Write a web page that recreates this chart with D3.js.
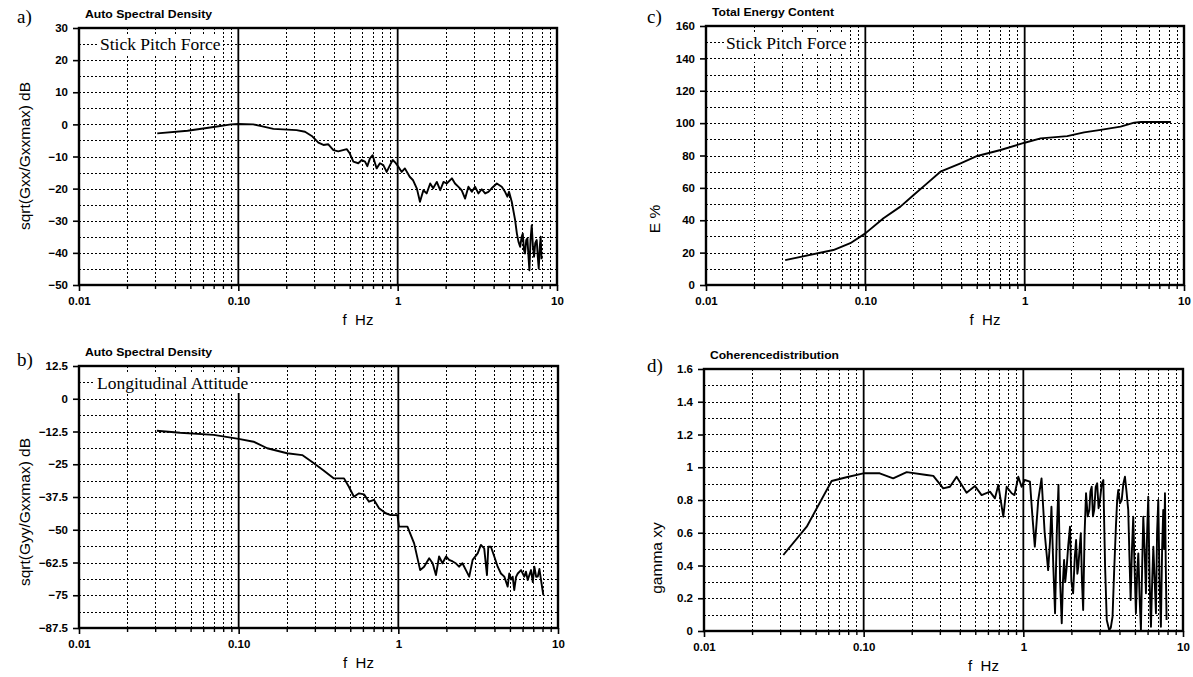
<!DOCTYPE html>
<html><head><meta charset="utf-8">
<script src="https://cdn.jsdelivr.net/npm/d3@7"></script>
<style>body{margin:0;background:#fff}svg{display:block}</style>
</head><body>
<svg id="c" width="1193" height="677"></svg>
<script>
// ---------- data ----------
const xTickValues = [0.01, 0.1, 1, 10];
const xTickLabels = ["0.01", "0.10", "1", "10"];

const yTicksA = [30, 20, 10, 0, -10, -20, -30, -40, -50];
const yTicksB = [12.5, 0, -12.5, -25, -37.5, -50, -62.5, -75, -87.5];
const yTicksC = [160, 140, 120, 100, 80, 60, 40, 20, 0];
const yTicksD = [1.6, 1.4, 1.2, 1, 0.8, 0.6, 0.4, 0.2, 0];
const yLabelsB = ["12.5", "0", "\u221212.5", "\u221225", "\u221237.5", "\u221250", "\u221262.5", "\u221275", "\u221287.5"];
const yLabelsD = ["1.6", "1.4", "1.2", "1", "0.8", "0.6", "0.4", "0.2", "0"];

// a) Stick pitch force auto spectral density
const freqA = [0.031,0.048,0.07,0.09,0.1,0.124,0.144,0.166,0.232,0.262,0.289,0.318,0.342,0.367,0.395,0.424,0.479,0.50,0.527,0.566,0.595,0.624,0.645,0.67,0.697,0.721,0.738,0.774,0.813,0.853,0.895,0.931,0.971,1.01,1.06,1.11,1.19,1.25,1.32,1.38,1.45,1.52,1.6,1.67,1.76,1.85,1.94,2.03,2.19,2.29,2.4,2.52,2.65,2.78,2.92,3.06,3.21,3.37,3.54,3.71,3.89,4.19,4.5,4.72,4.88,5.0,5.2,5.46,5.6,5.73,5.87,6.0,6.1,6.2,6.3,6.41,6.52,6.6,6.71,6.82,6.94,7.06,7.18,7.3,7.46,7.57,7.68,7.8,7.9,8.0];
const valA  = [-2.8,-2.0,-0.8,0,0.1,0,-0.7,-1.4,-1.8,-2.3,-3.6,-5.7,-6.4,-6.2,-8.0,-8.4,-7.7,-9.0,-11.6,-12.1,-11.1,-11.6,-13,-10.6,-9.6,-12.1,-13.7,-12.1,-12.7,-14.8,-12.7,-11.1,-12.0,-13.2,-14.8,-13.7,-16.3,-17.4,-20,-24.1,-20.5,-21.5,-18.4,-19.9,-17.9,-20.5,-17.9,-18.4,-16.8,-18.4,-19.4,-20.5,-23.1,-19.4,-21,-19.4,-21.5,-20.2,-21.5,-21,-19.9,-18.4,-19.4,-21,-22.5,-21,-24.1,-29.8,-34,-36.5,-38.1,-35,-34,-39,-40.2,-36,-35.5,-40,-45.4,-36,-31.4,-38,-41.2,-37,-36,-41,-44.9,-38,-35,-42];

// b) Longitudinal attitude auto spectral density
const freqB = [0.0307,0.043,0.0697,0.1,0.124,0.151,0.201,0.25,0.296,0.342,0.395,0.457,0.49,0.527,0.567,0.61,0.655,0.704,0.757,0.834,0.896,0.987,1.01,1.14,1.256,1.37,1.45,1.56,1.64,1.72,1.80,1.89,1.99,2.08,2.19,2.29,2.40,2.52,2.65,2.78,2.92,3.14,3.29,3.45,3.59,3.66,3.80,3.99,4.19,4.39,4.61,4.84,4.95,5.08,5.20,5.32,5.46,5.60,5.87,6.15,6.3,6.46,6.78,6.95,7.11,7.3,7.47,7.65,7.83,8.09];
const valB  = [-12.2,-13.0,-13.8,-15.3,-16.4,-18.9,-20.8,-21.5,-24.6,-27.5,-30.4,-30.4,-33.6,-37.4,-36.1,-36.5,-39.3,-38.6,-41.8,-43.7,-44.4,-44.4,-48.8,-48.8,-55.2,-65.4,-64.1,-60.9,-62.8,-67.3,-60.2,-62.8,-60.2,-61.5,-62.1,-62.8,-64.1,-62.8,-65.4,-67.9,-61.5,-59,-55.8,-57.1,-67.3,-56.5,-56.5,-60.2,-64.1,-66.7,-67.9,-71.7,-66.7,-69,-67.9,-73,-68,-66.7,-65.4,-67.9,-66,-69.2,-65.4,-70,-64.1,-68,-67.9,-65,-69.2,-74.9];

// c) Total energy content
const freqC = [0.0314,0.063,0.0805,0.1,0.13,0.166,0.201,0.244,0.296,0.396,0.504,0.706,1.0,1.26,1.85,2.36,3.0,4.0,4.87,5.37,8.28];
const valC  = [15.4,21.6,25.8,31.9,41.2,48.4,55.6,62.8,70,75.2,79.7,83.4,87.9,90.6,92,94.3,95.8,97.8,100.3,100.7,100.7];

// d) Coherence distribution
const freqD = [0.0314,0.044,0.063,0.078,0.0995,0.126,0.153,0.186,0.248,0.273,0.315,0.347,0.382,0.441,0.498,0.548,0.618,0.664,0.697,0.749,0.786,0.845,0.88,0.93,0.975,1.02,1.1,1.14,1.18,1.24,1.30,1.36,1.43,1.47,1.50,1.54,1.58,1.62,1.66,1.70,1.74,1.77,1.80,1.83,1.87,1.91,1.96,2.0,2.05,2.1,2.14,2.18,2.21,2.25,2.29,2.33,2.37,2.42,2.47,2.53,2.59,2.63,2.68,2.73,2.78,2.84,2.90,2.96,3.02,3.1,3.17,3.25,3.33,3.4,3.45,3.53,3.62,3.7,3.80,3.87,3.93,4.03,4.13,4.23,4.33,4.43,4.54,4.62,4.70,4.79,4.88,4.97,5.07,5.16,5.25,5.35,5.45,5.55,5.64,5.75,5.86,5.96,6.06,6.18,6.30,6.41,6.52,6.65,6.77,6.88,7.0,7.13,7.27,7.4,7.52,7.62,7.71,7.8,7.89];
const valD  = [0.464,0.637,0.916,0.939,0.963,0.963,0.932,0.97,0.953,0.947,0.871,0.881,0.942,0.845,0.885,0.83,0.851,0.81,0.892,0.698,0.881,0.841,0.83,0.942,0.881,0.922,0.912,0.7,0.515,0.8,0.932,0.6,0.372,0.55,0.759,0.4,0.108,0.6,0.892,0.3,0.047,0.3,0.434,0.3,0.393,0.52,0.637,0.3,0.23,0.45,0.556,0.35,0.393,0.5,0.597,0.3,0.128,0.6,0.841,0.7,0.739,0.85,0.881,0.7,0.74,0.88,0.902,0.75,0.8,0.9,0.922,0.4,0.067,0.03,0.006,0.02,0.087,0.35,0.637,0.8,0.861,0.78,0.8,0.9,0.942,0.85,0.739,0.45,0.189,0.5,0.698,0.4,0.108,0.35,0.474,0.2,0.006,0.4,0.698,0.5,0.23,0.6,0.82,0.3,0.026,0.3,0.515,0.3,0.108,0.6,0.8,0.3,0.026,0.5,0.739,0.5,0.841,0.4,0.067];

// ---------- drawing ----------
const svg = d3.select("#c");
const SANS = "'Liberation Sans', Arial, sans-serif";
const SERIF = "'Liberation Serif', 'Times New Roman', serif";

function panel(cfg) {
  const g = svg.append("g");
  const x = d3.scaleLog().domain([0.01, 10]).range([cfg.left, cfg.right]);
  const y = d3.scaleLinear().domain(cfg.yDomain).range([cfg.bottom, cfg.top]);

  // minor vertical grid (2..9 per decade)
  const minors = [];
  [0.01, 0.1, 1].forEach(dd => { for (let k = 2; k <= 9; k++) minors.push(dd * k); });
  g.selectAll(".vg").data(minors).join("line")
    .attr("x1", d => Math.round(x(d)) + 0.5).attr("x2", d => Math.round(x(d)) + 0.5)
    .attr("y1", cfg.top).attr("y2", cfg.bottom)
    .attr("stroke", "#000").attr("stroke-width", 1).attr("stroke-dasharray", "1.5,2.5")
    .attr("shape-rendering", "crispEdges");

  // horizontal grid at half steps
  const [y0, y1] = cfg.yDomain;
  const step = (cfg.yTicks[0] - cfg.yTicks[1]) / 2;
  const hg = d3.range(0, Math.round((y1 - y0) / step) + 1).map(i => y0 + i * step).filter(v => v > y0 && v < y1);
  g.selectAll(".hg").data(hg).join("line")
    .attr("x1", cfg.left).attr("x2", cfg.right)
    .attr("y1", d => Math.round(y(d)) + 0.5).attr("y2", d => Math.round(y(d)) + 0.5)
    .attr("stroke", "#000").attr("stroke-width", 1).attr("stroke-dasharray", "1.5,2.5")
    .attr("shape-rendering", "crispEdges");

  // major decade lines
  g.selectAll(".mg").data([0.1, 1]).join("line")
    .attr("x1", d => x(d)).attr("x2", d => x(d))
    .attr("y1", cfg.top).attr("y2", cfg.bottom)
    .attr("stroke", "#000").attr("stroke-width", 1.8);

  // inset label
  if (cfg.inset) {
    const t = g.append("text").attr("x", cfg.inset.x).attr("y", cfg.inset.y)
      .attr("font-family", SERIF).attr("font-size", 17.5).attr("fill", "#000").text(cfg.inset.text);
    const bb = t.node().getBBox();
    g.insert("rect", "text").attr("x", bb.x - 2).attr("y", bb.y).attr("width", bb.width + 4).attr("height", bb.height)
      .attr("fill", "#fff");
  }

  // curve
  const data = cfg.fx.map((f, i) => [f, cfg.fy[i]]);
  g.append("path").datum(data)
    .attr("d", d3.line().x(d => x(d[0])).y(d => y(d[1])))
    .attr("fill", "none").attr("stroke", "#000").attr("stroke-width", 1.9).attr("stroke-linejoin", "round");

  // frame
  g.append("rect").attr("x", cfg.left).attr("y", cfg.top)
    .attr("width", cfg.right - cfg.left).attr("height", cfg.bottom - cfg.top)
    .attr("fill", "none").attr("stroke", "#000").attr("stroke-width", 2.4);

  // bottom axis
  const xAxis = d3.axisBottom(x).tickValues(xTickValues).tickSize(6).tickPadding(6)
    .tickFormat((d, i) => xTickLabels[i]);
  const ax = g.append("g").attr("transform", `translate(0,${cfg.bottom})`).call(xAxis);
  ax.select(".domain").remove();
  ax.selectAll("line").attr("stroke-width", 1.6);
  ax.selectAll("text").attr("font-family", SANS).attr("font-weight", "bold").attr("font-size", 11.5).attr("fill", "#000");
  const axm = g.append("g").attr("transform", `translate(0,${cfg.bottom})`)
    .call(d3.axisBottom(x).tickValues(minors).tickSize(4).tickFormat(""));
  axm.select(".domain").remove();
  axm.selectAll("line").attr("stroke-width", 1.4);

  // left axis
  const yAxis = d3.axisLeft(y).tickValues(cfg.yTicks).tickSize(6).tickPadding(5)
    .tickFormat((d, i) => cfg.yLabels ? cfg.yLabels[i] : d3.format("")(d).replace("-", "\u2212"));
  const ay = g.append("g").attr("transform", `translate(${cfg.left},0)`).call(yAxis);
  ay.select(".domain").remove();
  ay.selectAll("line").attr("stroke-width", 1.6);
  ay.selectAll("text").attr("font-family", SANS).attr("font-weight", "bold").attr("font-size", 11.5).attr("fill", "#000");

  // axis titles
  g.append("text").attr("x", (cfg.left + cfg.right) / 2 + 40).attr("y", cfg.bottom + 40)
    .attr("text-anchor", "middle").attr("font-family", SANS).attr("font-size", 15).attr("font-weight", 500)
    .attr("xml:space", "preserve").text("f  Hz");
  g.append("text").attr("transform", `translate(${cfg.ylab.x},${cfg.ylab.y}) rotate(-90)`)
    .attr("text-anchor", "middle").attr("font-family", SANS).attr("font-size", 15.5).text(cfg.ylab.text);

  // top title and panel letter
  g.append("text").attr("x", cfg.left + 6).attr("y", cfg.top - 10)
    .attr("font-family", SANS).attr("font-weight", "bold").attr("font-size", 10.5)
    .attr("textLength", cfg.titleLen).attr("lengthAdjust", "spacingAndGlyphs").text(cfg.title);
  g.append("text").attr("x", cfg.letter.x).attr("y", cfg.letter.y)
    .attr("font-family", SERIF).attr("font-size", 19).text(cfg.letter.text);
}

panel({left: 79, right: 557, top: 28, bottom: 285, yDomain: [-50, 30], yTicks: yTicksA,
  fx: freqA, fy: valA, title: "Auto Spectral Density", titleLen: 127, letter: {x: 17, y: 23, text: "a)"},
  inset: {x: 100, y: 50, text: "Stick Pitch Force"},
  ylab: {x: 30, y: 156, text: "sqrt(Gxx/Gxxmax) dB"}});

panel({left: 79, right: 558, top: 366, bottom: 628, yDomain: [-87.5, 12.5], yTicks: yTicksB, yLabels: yLabelsB,
  fx: freqB, fy: valB, title: "Auto Spectral Density", titleLen: 127, letter: {x: 17, y: 366, text: "b)"},
  inset: {x: 97, y: 389, text: "Longitudinal Attitude"},
  ylab: {x: 30, y: 512, text: "sqrt(Gyy/Gxxmax) dB"}});

panel({left: 706, right: 1184, top: 26, bottom: 285, yDomain: [0, 160], yTicks: yTicksC,
  fx: freqC, fy: valC, title: "Total Energy Content", titleLen: 122, letter: {x: 647, y: 23, text: "c)"},
  inset: {x: 726, y: 49, text: "Stick Pitch Force"},
  ylab: {x: 660, y: 219, text: "E %"}});

panel({left: 704, right: 1183, top: 369, bottom: 631, yDomain: [0, 1.6], yTicks: yTicksD, yLabels: yLabelsD,
  fx: freqD, fy: valD, title: "Coherencedistribution", titleLen: 129, letter: {x: 647, y: 372, text: "d)"},
  ylab: {x: 662, y: 558, text: "gamma xy"}});
</script>
</body></html>
